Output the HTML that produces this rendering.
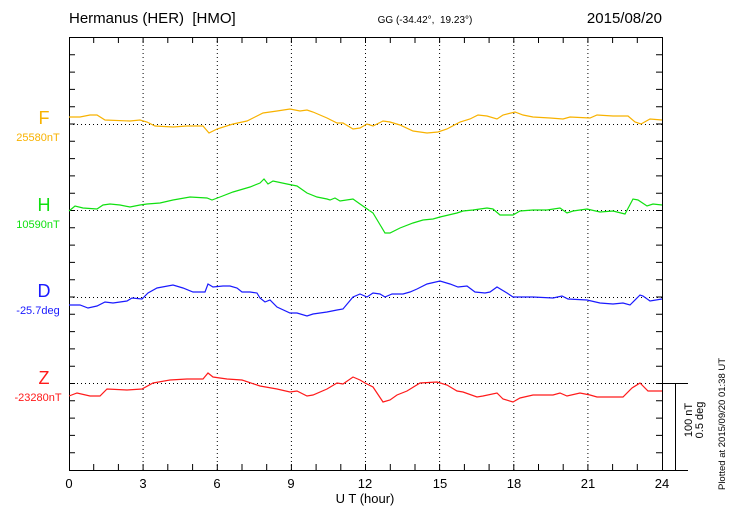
<!DOCTYPE html>
<html><head><meta charset="utf-8"><style>
html,body{margin:0;padding:0;background:#fff}
svg{display:block;font-family:"Liberation Sans",sans-serif}
</style></head><body>
<svg width="730" height="520" viewBox="0 0 730 520" xmlns="http://www.w3.org/2000/svg">
<rect width="730" height="520" fill="#fff"/>
<text x="69" y="23" font-size="15">Hermanus (HER)&#160; [HMO]</text>
<text x="425" y="23" font-size="10" text-anchor="middle">GG (-34.42°,&#160; 19.23°)</text>
<text x="662" y="23" font-size="15" text-anchor="end">2015/08/20</text>
<g stroke="#000" stroke-width="1" stroke-dasharray="1,3" fill="none">
<line x1="143.1" y1="37" x2="143.1" y2="470"/><line x1="217.3" y1="37" x2="217.3" y2="470"/>
<line x1="291.4" y1="37" x2="291.4" y2="470"/><line x1="365.5" y1="37" x2="365.5" y2="470"/>
<line x1="439.6" y1="37" x2="439.6" y2="470"/><line x1="513.8" y1="37" x2="513.8" y2="470"/>
<line x1="587.9" y1="37" x2="587.9" y2="470"/>
<line x1="69" y1="124.5" x2="662" y2="124.5"/><line x1="69" y1="210.5" x2="662" y2="210.5"/>
<line x1="69" y1="297.5" x2="662" y2="297.5"/>
<line x1="69" y1="383.5" x2="662" y2="383.5"/>
</g>
<g stroke="#000" stroke-width="1" fill="none">
<path d="M69.5 37V470.5H688M69 37.5H662.5V470"/>
<line x1="662" y1="383.5" x2="688" y2="383.5"/>
<line x1="675.5" y1="383" x2="675.5" y2="470"/>
<path d="M69 54.8h6M69 72.1h6M69 89.4h6M69 106.7h6M69 124h6M69 141.3h6M69 158.6h6M69 175.9h6M69 193.2h6M69 210.5h6M69 227.8h6M69 245.1h6M69 262.4h6M69 279.7h6M69 297h6M69 314.3h6M69 331.6h6M69 348.9h6M69 366.2h6M69 383.5h6M69 400.8h6M69 418.1h6M69 435.4h6M69 452.7h6"/>
<path transform="translate(731,0) scale(-1,1)" d="M69 54.8h6M69 72.1h6M69 89.4h6M69 106.7h6M69 124h6M69 141.3h6M69 158.6h6M69 175.9h6M69 193.2h6M69 210.5h6M69 227.8h6M69 245.1h6M69 262.4h6M69 279.7h6M69 297h6M69 314.3h6M69 331.6h6M69 348.9h6M69 366.2h6M69 383.5h6M69 400.8h6M69 418.1h6M69 435.4h6M69 452.7h6"/>
</g>
<path stroke="#000" d="M93.7 470v-6M118.4 470v-6M143.1 470v-6M167.8 470v-6M192.6 470v-6M217.3 470v-6M242 470v-6M266.7 470v-6M291.4 470v-6M316.1 470v-6M340.8 470v-6M365.5 470v-6M390.3 470v-6M415 470v-6M439.6 470v-6M464.4 470v-6M489.1 470v-6M513.8 470v-6M538.5 470v-6M563.2 470v-6M587.9 470v-6M612.6 470v-6M637.3 470v-6
M93.7 37v6M118.4 37v6M143.1 37v6M167.8 37v6M192.6 37v6M217.3 37v6M242 37v6M266.7 37v6M291.4 37v6M316.1 37v6M340.8 37v6M365.5 37v6M390.3 37v6M415 37v6M439.6 37v6M464.4 37v6M489.1 37v6M513.8 37v6M538.5 37v6M563.2 37v6M587.9 37v6M612.6 37v6M637.3 37v6"/>
<g font-size="13" text-anchor="middle">
<text x="69" y="488">0</text><text x="143" y="488">3</text><text x="217" y="488">6</text><text x="291" y="488">9</text>
<text x="365" y="488">12</text><text x="440" y="488">15</text><text x="514" y="488">18</text><text x="588" y="488">21</text><text x="662" y="488">24</text>
<text x="365" y="503">U T (hour)</text>
</g>
<g fill="none" stroke-width="1.2">
<polyline stroke="#f8b200" points="69,117 80,117 90,115 97,115 105,120 130,121 140,120 147,122 155,126 173,127 187,126 203,126 209,133 217,129 233,124 247,121 263,113 277,111 290,109 300,111 307,110 313,112 327,118 337,123 343,123 353,129 360,128 367,124 373,126 383,121 390,122 400,125 413,131 427,133 438,132 447,129 460,122 470,119 478,115 487,116 497,119 503,115 515,112 523,115 533,117 550,118 563,119 570,117 590,118 597,115 613,116 628,116 635,122 641,124 650,119 662,120"/>
<polyline stroke="#10e010" points="69,211 75,206 83,208 97,209 103,205 110,204 120,205 130,207 140,205 147,204 160,203 173,200 190,197 207,198 212,200 220,197 233,192 250,187 260,183 264,179 268,184 273,181 287,184 297,186 307,193 317,197 327,199 330,200 335,198 340,201 353,199 360,204 373,213 385,233 390,233 400,228 413,223 423,220 433,219 440,217 457,213 463,211 473,210 487,208 493,209 500,215 513,215 520,211 533,210 547,210 560,208 567,213 573,211 587,209 600,212 613,211 625,214 633,199 638,200 647,206 653,204 662,205"/>
<polyline stroke="#1a1aff" points="69,305 80,305 88,308 97,306 105,302 113,303 127,301 132,298 142,299 148,293 157,288 173,285 183,288 193,292 205,292 208,284 213,287 223,286 230,286 237,288 242,292 250,292 257,293 260,298 265,302 270,300 277,307 290,313 297,313 307,316 313,314 327,312 337,310 343,309 353,297 360,294 367,297 373,293 380,294 385,297 392,294 403,294 410,292 417,289 427,284 440,281 450,284 458,287 467,286 475,292 485,293 490,292 497,287 507,293 513,297 533,297 553,298 562,296 568,299 587,300 600,303 613,304 623,303 630,305 640,295 643,296 650,301 662,299"/>
<polyline stroke="#ff1a1a" points="69,396 77,393 90,396 100,396 107,389 127,390 142,389 153,383 170,380 187,379 203,379 208,373 213,377 227,379 242,380 260,386 277,389 290,392 297,391 307,396 313,395 327,389 337,383 343,384 353,377 360,380 365,383 373,387 383,402 390,400 397,395 407,391 420,383 437,382 447,385 457,391 463,392 477,397 483,396 497,393 503,399 513,402 520,398 533,395 553,395 560,393 567,396 580,393 590,395 597,397 613,397 623,397 632,388 640,383 648,391 662,391"/>
</g>
<g text-anchor="middle">
<text x="44" y="124" font-size="18" fill="#f8b200">F</text>
<text x="38" y="141" font-size="11" fill="#f8b200">25580nT</text>
<text x="44" y="211" font-size="18" fill="#10e010">H</text>
<text x="38" y="228" font-size="11" fill="#10e010">10590nT</text>
<text x="44" y="297" font-size="18" fill="#1a1aff">D</text>
<text x="38" y="314" font-size="11" fill="#1a1aff">-25.7deg</text>
<text x="44" y="384" font-size="18" fill="#ff1a1a">Z</text>
<text x="38" y="401" font-size="11" fill="#ff1a1a">-23280nT</text>
</g>
<text transform="translate(692,420) rotate(-90)" font-size="11" text-anchor="middle">100 nT</text>
<text transform="translate(703,420) rotate(-90)" font-size="11" text-anchor="middle">0.5 deg</text>
<text transform="translate(725,424) rotate(-90)" font-size="9.5" text-anchor="middle">Plotted at 2015/09/20 01:38 UT</text>
</svg>
</body></html>
